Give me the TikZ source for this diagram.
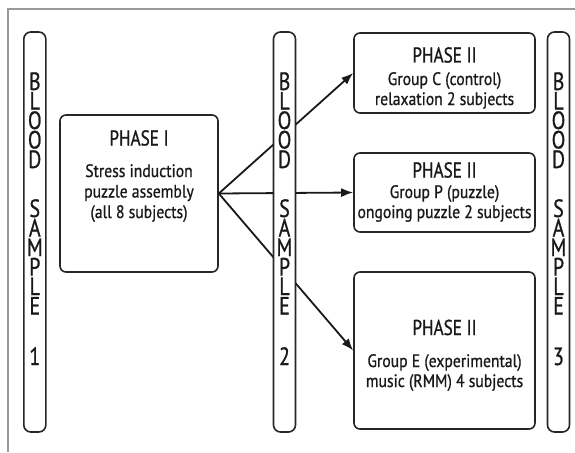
\documentclass[tikz,border=0pt]{standalone}
\usepackage{fontspec}
\setmainfont{PT Sans}[FakeStretch=0.8, FakeBold=0.8]
\newfontfamily\bodyfont{PT Sans}[FakeStretch=0.87, FakeBold=0.8]
\usetikzlibrary{arrows.meta}
\tikzset{
  box/.style={draw=black!85, line width=1.6pt, rounded corners=6pt, fill=white, inner sep=0pt},
  bar/.style={draw=black!85, line width=1.6pt, rounded corners=7pt, fill=white, inner sep=0pt,
    minimum width=22pt, minimum height=400pt},
  head/.style={font=\fontsize{21.5}{24}\selectfont, inner sep=0pt, anchor=base, text=black!90},
  body/.style={font=\bodyfont\fontsize{18}{20}\selectfont, inner sep=0pt, anchor=base, text=black!90},
  barletter/.style={font=\fontsize{25}{20}\selectfont, inner sep=0pt, anchor=base, text=black!90},
  conn/.style={draw=black!90, line width=1.8pt},
  arr/.style={conn, -{Latex[length=12pt,width=9pt]}},
}
\newcommand\bloodbar[3]{%
  \node[bar] (#1) at (#2,232) {};
  \foreach \ch/\yy [count=\i] in {B/90,L/109.5,O/129,O/148.5,D/168,S/217,A/236.5,M/256,P/275.5,L/295,E/314.5}
    \node[barletter] (#1-\i) at (#2,\yy) {\ch};
  \node[barletter] (#1-n) at (#2,365) {#3};
}
\begin{document}
\begin{tikzpicture}[x=1pt,y=-1pt]
\useasboundingbox (0,0) rectangle (575,452);
% frame
\draw[gray!80, line width=1.5pt] (575,9) -- (8,9) -- (8,452);
% phase boxes
\node[box, minimum width=158pt, minimum height=157pt] (p1) at (139,193.5) {};
\node[box, minimum width=181pt, minimum height=80pt] (pC) at (444.5,73) {};
\node[box, minimum width=181pt, minimum height=79pt] (pP) at (444.5,192.5) {};
\node[box, minimum width=181pt, minimum height=157pt] (pE) at (444.5,350.5) {};
% connectors (drawn under the blood sample bar)
\draw[arr] (p1.east) -- (pC.west);
\draw[arr] (p1.east) -- (pP.west);
\draw[arr] (p1.east) -- (pE.west);
% blood sample bars
\bloodbar{s1}{34.8}{1}
\bloodbar{s2}{284.5}{2}
\bloodbar{s3}{558.5}{3}
% texts
\node[head] (t1h) at (139,145.5) {PHASE I};
\node[body] (t1a) at (139,177) {Stress induction};
\node[body] (t1b) at (139,197.5) {puzzle assembly};
\node[body] (t1c) at (139,218) {(all 8 subjects)};
\node[head] (tCh) at (444.5,62.5) {PHASE II};
\node[body] (tCa) at (444.5,85) {Group C (control)};
\node[body] (tCb) at (444.5,105) {relaxation 2 subjects};
\node[head] (tPh) at (444.5,177.5) {PHASE II};
\node[body] (tPa) at (444.5,198) {Group P (puzzle)};
\node[body] (tPb) at (444.5,218) {ongoing puzzle 2 subjects};
\node[head] (tEh) at (444.5,335) {PHASE II};
\node[body] (tEa) at (444.5,367) {Group E (experimental)};
\node[body] (tEb) at (444.5,387) {music (RMM) 4 subjects};
\end{tikzpicture}
\end{document}
